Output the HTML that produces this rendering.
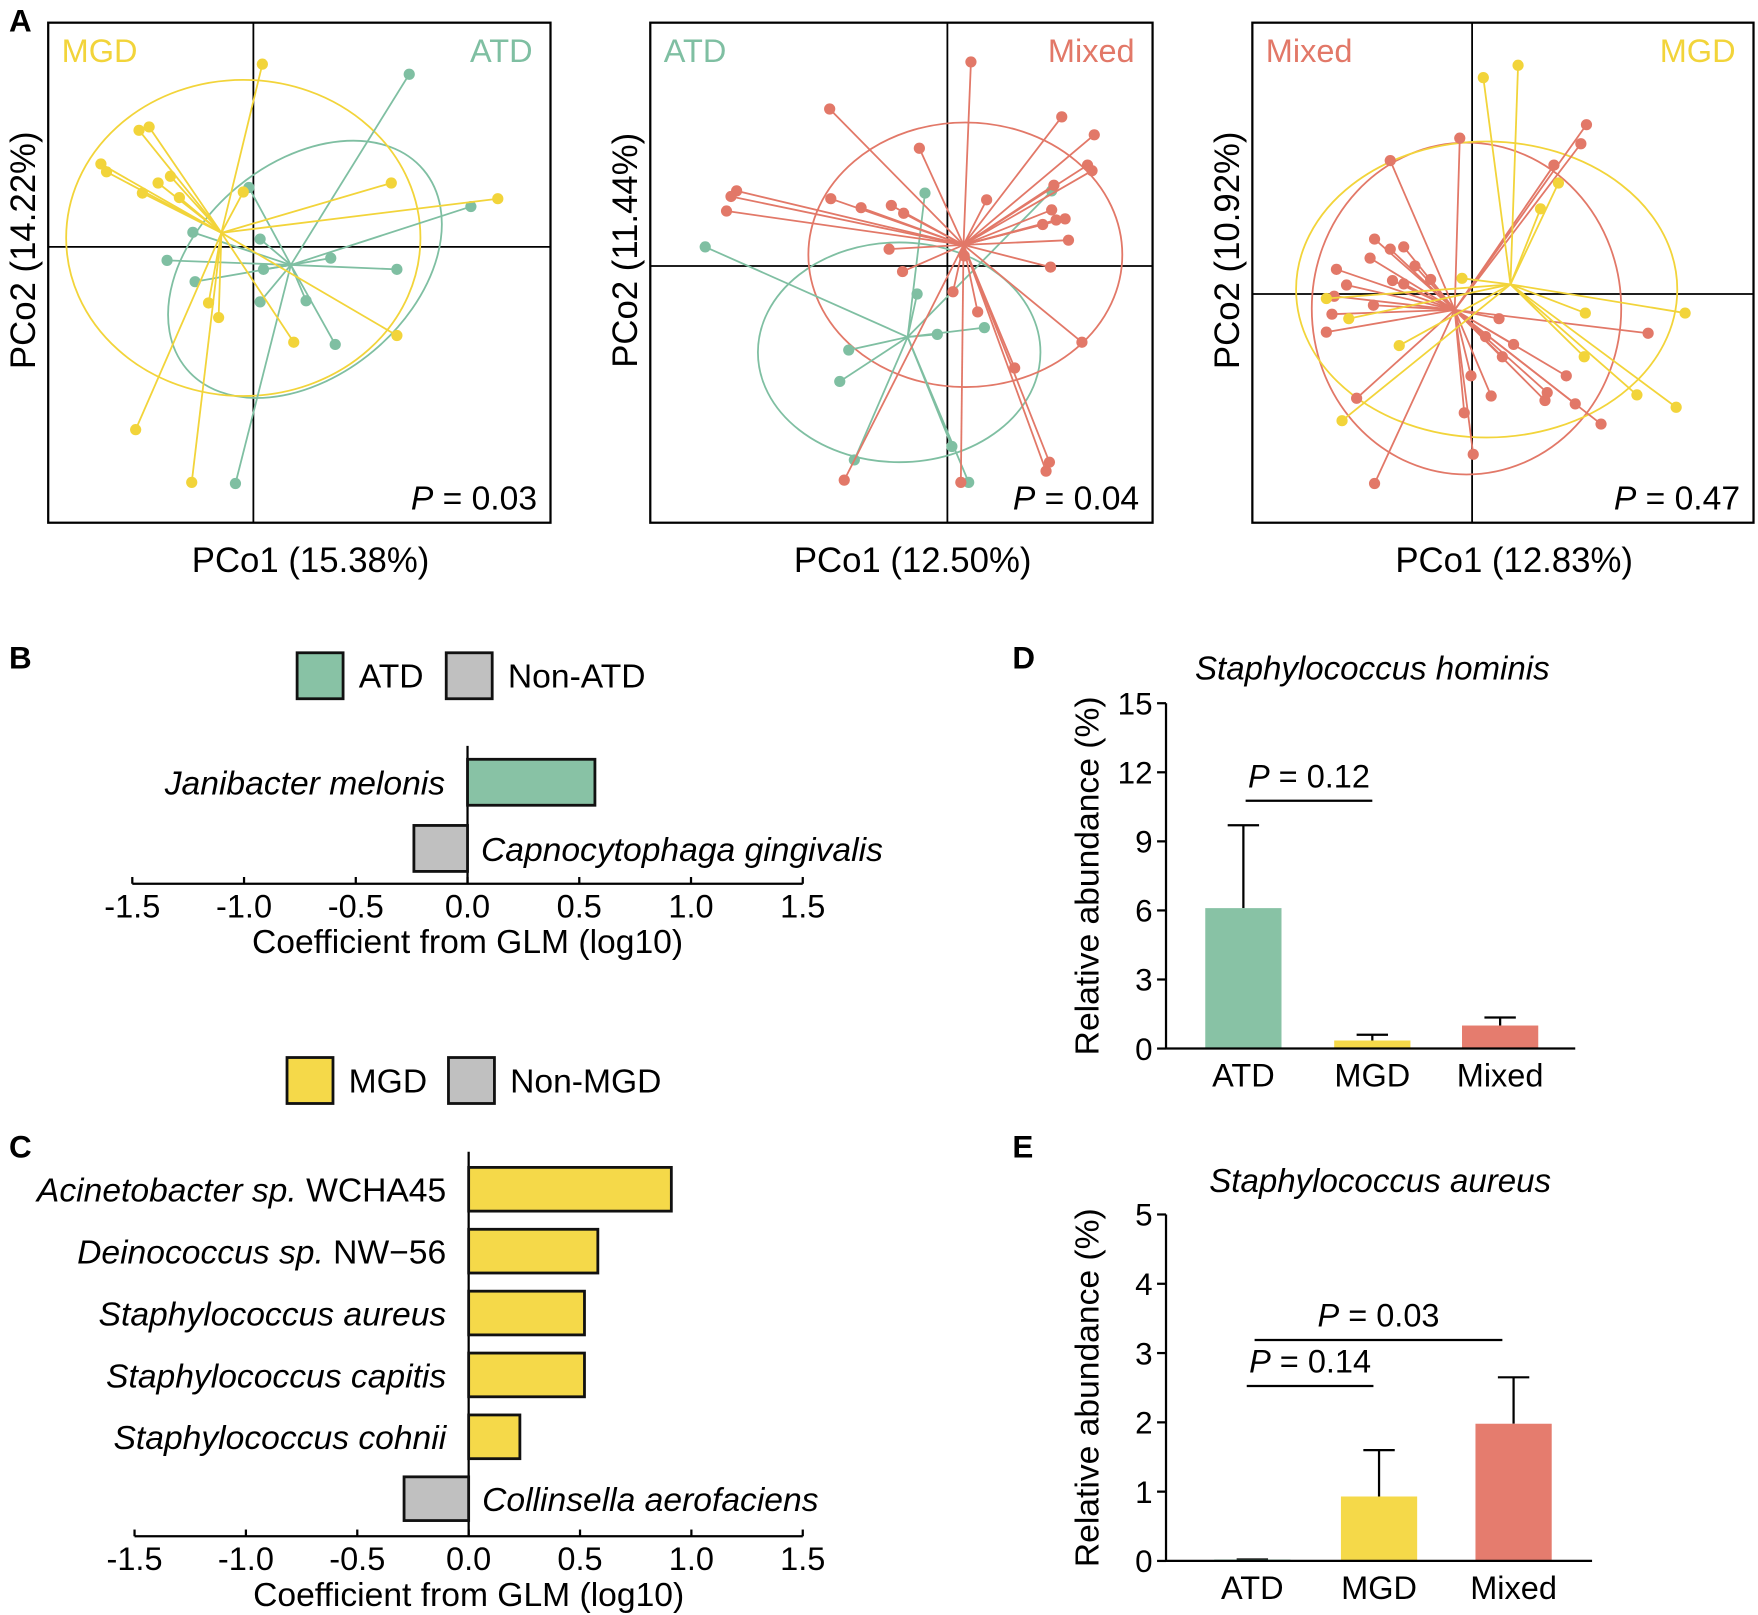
<!DOCTYPE html>
<html><head><meta charset="utf-8"><style>
html,body{margin:0;padding:0;background:#fff;}
svg{display:block;font-family:"Liberation Sans",Arial,sans-serif;}
</style></head><body>
<svg id="fig" width="1758" height="1615" viewBox="0 0 1568 1440" xmlns="http://www.w3.org/2000/svg">
<g id="static">
<text x="8" y="28" font-size="28" font-weight="bold">A</text>
<text x="8" y="596" font-size="28" font-weight="bold">B</text>
<text x="8" y="1032" font-size="28" font-weight="bold">C</text>
<text x="903" y="596" font-size="28" font-weight="bold">D</text>
<text x="903" y="1032" font-size="28" font-weight="bold">E</text>
</g>
<g id="dyn"></g>
</svg>
<script>
// ---------- Panel A data (PCo units) ----------
const p1MgdX=[0.08,-0.93,-1.02,-1.36,-1.31,-0.74,-0.85,-0.66,-0.99,-0.09,1.23,2.18,-0.40,-0.31,0.36,1.28,-1.05,-0.55];
const p1MgdY=[1.63,1.07,1.04,0.74,0.67,0.63,0.57,0.44,0.48,0.49,0.57,0.43,-0.50,-0.63,-0.85,-0.79,-1.63,-2.10];
const p1AtdX=[1.39,-0.04,1.94,-0.54,0.06,-0.77,0.69,1.28,-0.52,0.09,0.06,0.47,0.73,-0.16];
const p1AtdY=[1.54,0.53,0.36,0.13,0.07,-0.12,-0.10,-0.20,-0.31,-0.20,-0.49,-0.48,-0.87,-2.11];
const p2MixX=[0.21,-1.05,-0.25,1.02,1.31,1.25,1.29,-1.88,-1.93,-1.97,-1.04,-0.77,-0.50,-0.39,0.35,0.95,0.93,0.97,1.05,0.85,1.08,-0.52,-0.40,0.15,0.92,0.05,0.27,0.60,1.20,0.91,0.88,-0.92,0.12];
const p2MixY=[1.82,1.40,1.05,1.33,1.17,0.90,0.85,0.67,0.62,0.49,0.60,0.52,0.54,0.47,0.59,0.72,0.50,0.41,0.42,0.37,0.23,0.15,-0.05,0.09,-0.01,-0.23,-0.41,-0.91,-0.68,-1.75,-1.83,-1.91,-1.93];
const p2AtdX=[-2.16,-0.20,0.93,-0.27,0.33,-0.09,-0.88,-0.96,-0.83,0.04,0.19];
const p2AtdY=[0.17,0.65,0.67,-0.25,-0.55,-0.61,-0.75,-1.03,-1.73,-1.61,-1.93];
const p3MixX=[-0.73,-0.11,1.02,0.97,0.73,-0.87,-0.73,-0.61,-0.91,-0.51,-0.71,-0.61,-0.37,-1.21,-1.12,-1.23,-0.88,-1.25,-1.30,1.57,0.24,0.37,0.12,0.27,-0.01,0.17,0.67,-0.07,0.65,0.92,1.15,-1.03,-0.87,0.01,0.84];
const p3MixY=[1.19,1.39,1.51,1.34,1.15,0.49,0.40,0.42,0.32,0.25,0.12,0.09,0.13,0.22,0.08,-0.02,-0.10,-0.18,-0.34,-0.35,-0.22,-0.45,-0.38,-0.56,-0.73,-0.91,-0.88,-1.06,-0.95,-0.98,-1.16,-0.93,-1.69,-1.43,-0.73];
const p3MgdX=[0.10,0.41,0.77,0.61,1.01,1.90,-1.30,-1.10,-0.65,1.00,1.47,1.82,-1.16,-0.09];
const p3MgdY=[1.93,2.04,0.99,0.76,-0.17,-0.17,-0.04,-0.22,-0.46,-0.56,-0.90,-1.01,-1.13,0.14];
// ---------- Panel B/C data ----------
const bSpecies=["Janibacter melonis","Capnocytophaga gingivalis"];
const bValues=[0.57,-0.24];
const cSpecies=["Acinetobacter sp. WCHA45","Deinococcus sp. NW\u221256","Staphylococcus aureus","Staphylococcus capitis","Staphylococcus cohnii","Collinsella aerofaciens"];
const cValues=[0.91,0.58,0.52,0.52,0.23,-0.29];
const coefTicks=["-1.5","-1.0","-0.5","0.0","0.5","1.0","1.5"];
// ---------- Panel D/E data ----------
const groups=["ATD","MGD","Mixed"];
const dMeans=[6.1,0.35,1.0];
const dErr=[9.7,0.6,1.35];
const dTicks=[0,3,6,9,12,15];
const eMeans=[0.02,0.93,1.98];
const eErr=[0.02,1.6,2.65];
const eTicks=[0,1,2,3,4,5];

const NS="http://www.w3.org/2000/svg";
const root=document.getElementById('dyn');
function mk(tag,attrs,parent,txt){const e=document.createElementNS(NS,tag);for(const k in attrs)e.setAttribute(k,attrs[k]);if(txt!==undefined)e.textContent=txt;(parent||root).appendChild(e);return e;}
const YEL="#F2D43A",GRN="#7FBFA2",RED="#E27868";

function mean(a){return a.reduce((s,v)=>s+v,0)/a.length;}
function scatterPanel(box,cx,cy,groupsDef,ell,labL,labR,pTxt,xl,yl,pre){
  const g=mk('g',{});
  
  
  const sx=v=>cx+v*100, sy=v=>cy-v*100;
  const frame=mk('rect',{x:box[0],y:box[1],width:box[2]-box[0],height:box[3]-box[1],fill:'none',stroke:'#000','stroke-width':2},g);
  
  const vl=mk('line',{x1:cx,x2:cx,y1:box[1],y2:box[3],stroke:'#000','stroke-width':1.6},g);
  
  const hl=mk('line',{x1:box[0],x2:box[2],y1:cy,y2:cy,stroke:'#000','stroke-width':1.6},g);
  
  groupsDef.forEach(gd=>{
    const e=ell[gd.name];
    const el=mk('ellipse',{cx:sx(e[0]),cy:sy(e[1]),rx:e[2]*100,ry:e[3]*100,fill:'none',stroke:gd.col,'stroke-width':1.6,transform:`rotate(${-e[4]} ${sx(e[0])} ${sy(e[1])})`},g);
    
  });
  groupsDef.forEach(gd=>{
    const mx=mean(gd.x),my=mean(gd.y);
    gd.x.forEach((v,i)=>{
      const ln=mk('line',{x1:sx(mx),y1:sy(my),x2:sx(v),y2:sy(gd.y[i]),stroke:gd.col,'stroke-width':1.6},g);
      
    });
    gd.x.forEach((v,i)=>{
      const c=mk('circle',{cx:sx(v),cy:sy(gd.y[i]),r:5,fill:gd.col},g);
      
    });
  });
  const t1=mk('text',{x:box[0]+12,y:box[1]+35,'font-size':29,fill:labL[1]},g,labL[0]);
  
  const t2=mk('text',{x:box[2]-16,y:box[1]+35,'font-size':29,fill:labR[1],'text-anchor':'end'},g,labR[0]);
  
  const pt=mk('text',{x:box[2]-12,y:box[3]-12,'font-size':30,'text-anchor':'end'},g);
  
  mk('tspan',{'font-style':'italic'},pt,'P');mk('tspan',{},pt,' = '+pTxt);
  const xt=mk('text',{x:(box[0]+box[2])/2+10,y:box[3]+44,'font-size':31,'text-anchor':'middle'},g,xl);
  
  const ym=(box[1]+box[3])/2-20;
  const yt=mk('text',{x:box[0]-12,y:ym,'font-size':31,'text-anchor':'middle',transform:`rotate(-90 ${box[0]-12} ${ym})`},g,yl);
  
}
scatterPanel([43,20,491,466],226,220,
  [{name:'atd',col:GRN,x:p1AtdX,y:p1AtdY},{name:'mgd',col:YEL,x:p1MgdX,y:p1MgdY}],
  {atd:[0.46,-0.20,1.38,0.95,40],mgd:[-0.09,0.08,1.58,1.41,0]},
  ['MGD',YEL],['ATD',GRN],'0.03','PCo1 (15.38%)','PCo2 (14.22%)','a1');
scatterPanel([580,20,1028,466],845,237,
  [{name:'atd',col:GRN,x:p2AtdX,y:p2AtdY},{name:'mixed',col:RED,x:p2MixX,y:p2MixY}],
  {atd:[-0.43,-0.77,1.26,0.98,0],mixed:[0.16,0.10,1.40,1.18,0]},
  ['ATD',GRN],['Mixed',RED],'0.04','PCo1 (12.50%)','PCo2 (11.44%)','a2');
scatterPanel([1117,20,1564,466],1313,262,
  [{name:'mixed',col:RED,x:p3MixX,y:p3MixY},{name:'mgd',col:YEL,x:p3MgdX,y:p3MgdY}],
  {mixed:[-0.05,-0.13,1.38,1.48,0],mgd:[0.13,0.04,1.70,1.32,0]},
  ['Mixed',RED],['MGD',YEL],'0.47','PCo1 (12.83%)','PCo2 (10.92%)','a3');

function coefPanel(pre,species,values,x0,x1,axisY,topY,firstY,step,barH,posCol,legend,legY){
  const g=mk('g',{});
  
  const zero=(x0+x1)/2, sc=v=>zero+v*(x1-x0)/3;
  legend.forEach(L=>{
    const r=mk('rect',{x:L.x,y:legY,width:41,height:41,fill:L.col,stroke:'#111','stroke-width':2.5},g);
    
    const t=mk('text',{x:L.x+55,y:legY+31,'font-size':30},g,L.t);
    
  });
  const ax=mk('line',{x1:x0,x2:x1,y1:axisY,y2:axisY,stroke:'#000','stroke-width':2},g);
  
  coefTicks.forEach(tk=>{
    const v=parseFloat(tk);
    const tl=mk('line',{x1:sc(v),x2:sc(v),y1:axisY-6,y2:axisY,stroke:'#000','stroke-width':2},g);
    
    const tt=mk('text',{x:sc(v),y:axisY+30,'font-size':29,'text-anchor':'middle'},g,tk);
    
  });
  const zl=mk('line',{x1:zero,x2:zero,y1:topY,y2:axisY,stroke:'#000','stroke-width':2},g);
  
  values.forEach((v,i)=>{
    const y=firstY+i*step;
    const b=mk('rect',{x:Math.min(sc(v),zero),y:y,width:Math.abs(sc(v)-zero),height:barH,fill:v>=0?posCol:'#C0C0C0',stroke:'#111','stroke-width':2.5},g);
    
    const lab=mk('text',{x:v>=0?zero-20:zero+12,y:y+barH/2+11,'font-size':30,'font-style':'italic','text-anchor':v>=0?'end':'start'},g);
    
    const s=species[i];const m=s.match(/^(.*? sp\.)(.*)$/);
    if(m){mk('tspan',{},lab,m[1]);mk('tspan',{'font-style':'normal'},lab,m[2]);}else lab.textContent=s;
  });
  const title=mk('text',{x:zero,y:axisY+62,'font-size':30,'text-anchor':'middle'},g,'Coefficient from GLM  (log10)');
  
}
coefPanel('b',bSpecies,bValues,118,716,788,665,677,59,41,'#88C2A5',[{x:265,col:'#88C2A5',t:'ATD'},{x:398,col:'#C0C0C0',t:'Non-ATD'}],582);
coefPanel('c',cSpecies,cValues,120,716,1370,1027,1041,55.2,39,'#F5D949',[{x:256,col:'#F5D949',t:'MGD'},{x:400,col:'#C0C0C0',t:'Non-MGD'}],943);

function abundPanel(pre,title,means,errs,ticks,x0,x1,yTop,yBot,barX,cols,brackets,titleX,titleY){
  const g=mk('g',{});
  
  const maxV=ticks[ticks.length-1];const sy=v=>yBot-(v/maxV)*(yBot-yTop);
  const t=mk('text',{x:titleX,y:titleY,'font-size':29.5,'font-style':'italic','text-anchor':'middle'},g,title);
  
  means.forEach((m,i)=>{
    const bx=barX[i];
    const el=mk('line',{x1:bx+34,x2:bx+34,y1:sy(m),y2:sy(errs[i]),stroke:'#000','stroke-width':2},g);
    
    const ec=mk('line',{x1:bx+20,x2:bx+48,y1:sy(errs[i]),y2:sy(errs[i]),stroke:'#000','stroke-width':2},g);
    
    const b=mk('rect',{x:bx,y:sy(m),width:68,height:yBot-sy(m),fill:cols[i]},g);
    
    const gl=mk('text',{x:bx+34,y:yBot+34,'font-size':29,'text-anchor':'middle'},g,groups[i]);
    
  });
  const ya=mk('line',{x1:x0,x2:x0,y1:yTop,y2:yBot,stroke:'#000','stroke-width':2},g);
  
  const xa=mk('line',{x1:x0,x2:x1,y1:yBot,y2:yBot,stroke:'#000','stroke-width':2},g);
  
  ticks.forEach(v=>{
    const tl=mk('line',{x1:x0-8,x2:x0,y1:sy(v),y2:sy(v),stroke:'#000','stroke-width':2},g);
    
    const tt=mk('text',{x:x0-12,y:sy(v)+10,'font-size':28,'text-anchor':'end'},g,String(v));
    
  });
  const ym=(yTop+yBot)/2;
  const yt=mk('text',{x:x0-60,y:ym,'font-size':30,'text-anchor':'middle',transform:`rotate(-90 ${x0-60} ${ym})`},g,'Relative abundance (%)');
  
  brackets.forEach(br=>{
    const l=mk('line',{x1:br[0],x2:br[1],y1:br[2],y2:br[2],stroke:'#000','stroke-width':2},g);
    
    const pt=mk('text',{x:(br[0]+br[1])/2,y:br[2]-12,'font-size':29,'text-anchor':'middle'},g);
    
    mk('tspan',{'font-style':'italic'},pt,'P');mk('tspan',{},pt,' = '+br[3]);
  });
}
abundPanel('d','Staphylococcus hominis',dMeans,dErr,dTicks,1040,1405,627,935,[1075,1190,1304],['#88C2A5','#F5D949','#E57C6E'],[[1111,1224,714,'0.12']],1224,606);
abundPanel('e','Staphylococcus aureus',eMeans,eErr,eTicks,1040,1420,1083,1392,[1083,1196,1316],['#88C2A5','#F5D949','#E57C6E'],[[1112,1225,1236,'0.14'],[1119,1340,1195,'0.03']],1231,1063);
</script>
</body></html>
